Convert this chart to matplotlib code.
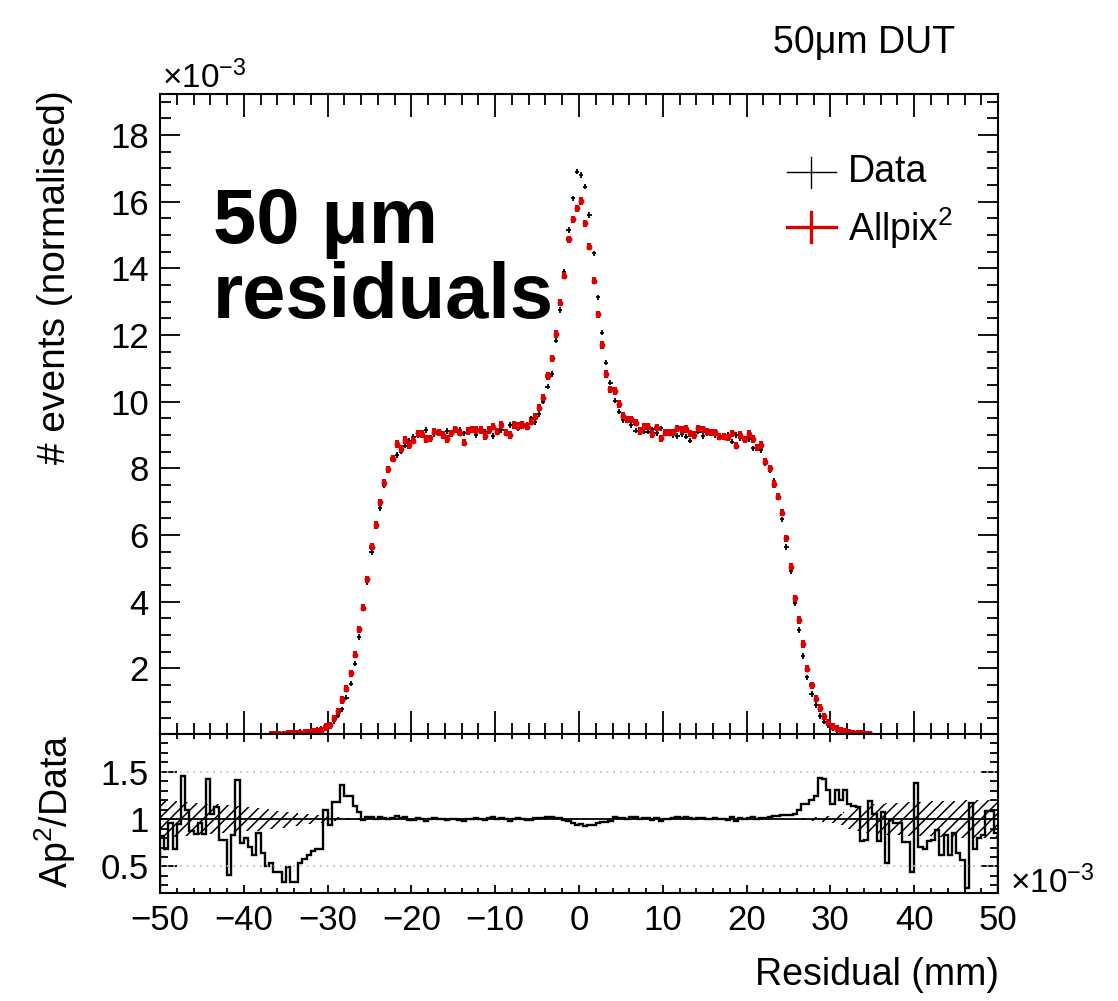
import numpy as np
import matplotlib
matplotlib.use('Agg')
import matplotlib.pyplot as plt
from matplotlib.ticker import MultipleLocator, FixedLocator, FuncFormatter
from matplotlib.lines import Line2D

plt.rcParams['font.family'] = ['Liberation Sans', 'DejaVu Sans']
plt.rcParams['mathtext.fontset'] = 'custom'
plt.rcParams['mathtext.rm'] = 'Liberation Sans'
plt.rcParams['mathtext.it'] = 'Liberation Sans:italic'
plt.rcParams['mathtext.bf'] = 'Liberation Sans:bold'
plt.rcParams['hatch.linewidth'] = 1.1

# residual histogram, 200 bins of 0.5 (x 1e-3 mm) from -50 to 50, values in 1e-3
data = [
    0.0, 0.0, 0.0, 0.0, 0.0, 0.0, 0.0, 0.0, 0.0, 0.0,
    0.0, 0.0, 0.0, 0.0, 0.0, 0.0, 0.0, 0.0, 0.0, 0.0,
    0.0, 0.0, 0.0, 0.0, 0.0, 0.0, 0.03, 0.04, 0.04, 0.05,
    0.06, 0.07, 0.08, 0.09, 0.10, 0.11, 0.13, 0.15, 0.18, 0.22,
    0.30, 0.42, 0.58, 0.77, 1.12, 1.54, 2.14, 2.94, 3.80, 4.58,
    5.49, 6.29, 6.80, 7.50, 7.95, 8.26, 8.40, 8.50, 8.68, 8.83,
    8.95, 8.98, 9.07, 9.15, 8.93, 9.03, 9.10, 9.00, 9.12, 9.05,
    9.17, 9.15, 9.05, 9.12, 9.17, 9.00, 9.12, 9.10, 9.10, 8.97,
    9.10, 9.15, 9.10, 9.30, 9.25, 9.20, 9.25, 9.30, 9.50, 9.38,
    9.63, 10.00, 10.45, 10.83, 11.83, 12.75, 13.90, 15.15, 16.10, 16.90,
    16.80, 16.45, 15.60, 14.45, 13.13, 12.07, 11.17, 10.57, 10.03, 9.70,
    9.45, 9.43, 9.30, 9.13, 9.10, 9.10, 9.10, 9.17, 9.05, 9.20,
    9.10, 9.05, 9.00, 8.97, 9.03, 8.95, 8.83, 9.00, 9.10, 8.97,
    9.05, 9.05, 9.00, 8.95, 8.95, 9.00, 8.80, 9.00, 8.90, 8.90,
    8.87, 8.60, 8.60, 8.55, 8.15, 7.95, 7.63, 7.15, 6.47, 5.64,
    4.92, 3.96, 3.15, 2.37, 1.73, 1.23, 0.90, 0.57, 0.40, 0.30,
    0.20, 0.15, 0.11, 0.08, 0.06, 0.05, 0.04, 0.03, 0.02, 0.02,
    0.0, 0.0, 0.0, 0.0, 0.0, 0.0, 0.0, 0.0, 0.0, 0.0,
    0.0, 0.0, 0.0, 0.0, 0.0, 0.0, 0.0, 0.0, 0.0, 0.0,
    0.0, 0.0, 0.0, 0.0, 0.0, 0.0, 0.0, 0.0, 0.0, 0.0,
]
allpix = [
    0.0, 0.0, 0.0, 0.0, 0.0, 0.0, 0.0, 0.0, 0.0, 0.0,
    0.0, 0.0, 0.0, 0.0, 0.0, 0.0, 0.0, 0.0, 0.0, 0.0,
    0.0, 0.0, 0.0, 0.0, 0.0, 0.0, 0.02, 0.02, 0.02, 0.02,
    0.03, 0.03, 0.03, 0.05, 0.06, 0.07, 0.09, 0.10, 0.13, 0.24,
    0.29, 0.50, 0.71, 1.05, 1.39, 1.85, 2.41, 3.17, 3.82, 4.67,
    5.65, 6.30, 6.98, 7.56, 7.97, 8.29, 8.73, 8.59, 8.85, 8.70,
    8.83, 9.05, 9.03, 8.88, 8.90, 9.10, 9.08, 9.00, 8.88, 9.05,
    9.17, 9.07, 8.77, 9.12, 9.17, 9.15, 9.15, 8.97, 9.15, 9.25,
    9.10, 9.30, 9.07, 9.00, 9.30, 9.27, 9.30, 9.25, 9.40, 9.55,
    9.82, 10.12, 10.77, 11.30, 12.03, 12.97, 13.78, 14.87, 15.47, 15.80,
    16.02, 15.35, 14.65, 13.63, 12.62, 11.70, 10.83, 10.37, 10.32, 9.93,
    9.58, 9.47, 9.47, 9.37, 9.12, 9.25, 9.25, 9.03, 9.22, 8.90,
    9.07, 9.07, 9.08, 9.20, 9.15, 9.18, 9.05, 9.00, 9.20, 9.17,
    9.10, 9.08, 9.08, 8.95, 8.95, 8.93, 9.05, 8.68, 9.00, 8.87,
    9.03, 8.88, 8.63, 8.70, 8.20, 8.00, 7.53, 7.15, 6.67, 5.90,
    5.05, 4.10, 3.45, 2.73, 1.99, 1.49, 1.09, 0.81, 0.56, 0.37,
    0.25, 0.19, 0.13, 0.09, 0.07, 0.05, 0.04, 0.03, 0.02, 0.02,
    0.0, 0.0, 0.0, 0.0, 0.0, 0.0, 0.0, 0.0, 0.0, 0.0,
    0.0, 0.0, 0.0, 0.0, 0.0, 0.0, 0.0, 0.0, 0.0, 0.0,
    0.0, 0.0, 0.0, 0.0, 0.0, 0.0, 0.0, 0.0, 0.0, 0.0,
]
# Allpix^2 / Data per bin
ratio = [
    0.82, 0.68, 0.96, 0.69, 0.95, 1.46, 1.10, 0.87, 0.84, 0.96,
    0.84, 1.43, 1.05, 1.13, 0.78, 0.78, 0.41, 0.83, 1.41, 0.75,
    0.80, 0.71, 0.62, 0.85, 0.64, 0.50, 0.54, 0.44, 0.44, 0.34,
    0.49, 0.34, 0.34, 0.54, 0.58, 0.62, 0.66, 0.69, 0.69, 1.10,
    0.94, 1.18, 1.18, 1.36, 1.24, 1.24, 1.14, 1.08, 0.99, 1.02,
    1.02, 1.00, 1.02, 1.01, 1.00, 1.01, 1.03, 1.01, 1.02, 0.99,
    0.99, 1.01, 1.00, 0.98, 1.00, 1.01, 1.00, 1.00, 0.99, 1.00,
    1.00, 0.99, 0.98, 1.00, 1.00, 1.01, 1.00, 0.99, 1.01, 1.02,
    1.00, 1.01, 1.00, 0.98, 1.00, 1.01, 1.00, 0.99, 0.99, 1.01,
    1.01, 1.01, 1.02, 1.02, 1.01, 1.01, 0.99, 0.98, 0.96, 0.94,
    0.95, 0.93, 0.94, 0.94, 0.96, 0.97, 0.97, 0.98, 1.02, 1.01,
    1.01, 1.00, 1.02, 1.02, 1.00, 1.01, 1.01, 0.99, 1.01, 0.98,
    1.00, 1.00, 1.01, 1.02, 1.01, 1.02, 1.01, 1.00, 1.01, 1.01,
    1.00, 1.00, 1.01, 1.00, 1.00, 0.99, 1.02, 0.98, 1.01, 1.00,
    1.01, 1.02, 1.00, 1.01, 1.01, 1.02, 1.03, 1.03, 1.04, 1.04,
    1.04, 1.05, 1.10, 1.16, 1.16, 1.20, 1.24, 1.44, 1.42, 1.31,
    1.16, 1.31, 1.20, 1.31, 1.16, 1.14, 1.13, 0.77, 0.78, 1.19,
    1.05, 0.77, 1.08, 0.54, 0.99, 0.96, 0.96, 0.76, 0.76, 0.44,
    1.38, 0.71, 0.69, 0.77, 0.78, 0.89, 0.62, 0.83, 0.62, 0.85,
    0.64, 0.57, 0.27, 1.17, 0.69, 0.80, 0.83, 1.09, 1.09, 0.85,
]
# half width of the hatched uncertainty band on the ratio
band = [
    0.19, 0.19, 0.19, 0.19, 0.18, 0.18, 0.18, 0.18, 0.17, 0.17,
    0.17, 0.16, 0.16, 0.16, 0.15, 0.15, 0.15, 0.14, 0.14, 0.13,
    0.13, 0.13, 0.12, 0.12, 0.11, 0.11, 0.10, 0.10, 0.09, 0.09,
    0.08, 0.08, 0.07, 0.06, 0.06, 0.05, 0.05, 0.04, 0.04, 0.03,
    0.03, 0.02, 0.02, 0.02, 0.01, 0.01, 0.01, 0.01, 0.0, 0.0,
    0.0, 0.0, 0.0, 0.0, 0.0, 0.0, 0.0, 0.0, 0.0, 0.0,
    0.0, 0.0, 0.0, 0.0, 0.0, 0.0, 0.0, 0.0, 0.0, 0.0,
    0.0, 0.0, 0.0, 0.0, 0.0, 0.0, 0.0, 0.0, 0.0, 0.0,
    0.0, 0.0, 0.0, 0.0, 0.0, 0.0, 0.0, 0.0, 0.0, 0.0,
    0.0, 0.0, 0.0, 0.0, 0.0, 0.0, 0.0, 0.0, 0.0, 0.0,
    0.0, 0.0, 0.0, 0.0, 0.0, 0.0, 0.0, 0.0, 0.0, 0.0,
    0.0, 0.0, 0.0, 0.0, 0.0, 0.0, 0.0, 0.0, 0.0, 0.0,
    0.0, 0.0, 0.0, 0.0, 0.0, 0.0, 0.0, 0.0, 0.0, 0.0,
    0.0, 0.0, 0.0, 0.0, 0.0, 0.0, 0.0, 0.0, 0.0, 0.0,
    0.0, 0.0, 0.0, 0.0, 0.0, 0.0, 0.0, 0.0, 0.0, 0.0,
    0.0, 0.0, 0.01, 0.01, 0.01, 0.02, 0.02, 0.02, 0.03, 0.03,
    0.04, 0.05, 0.06, 0.08, 0.10, 0.12, 0.13, 0.14, 0.15, 0.15,
    0.16, 0.16, 0.16, 0.17, 0.17, 0.17, 0.17, 0.18, 0.18, 0.18,
    0.18, 0.18, 0.18, 0.18, 0.19, 0.19, 0.19, 0.19, 0.19, 0.19,
    0.19, 0.20, 0.20, 0.20, 0.20, 0.20, 0.20, 0.20, 0.20, 0.20,
]

edges = np.linspace(-50, 50, 201)
centers = 0.5 * (edges[:-1] + edges[1:])
data = np.array(data)
allpix = np.array(allpix)
ratio = np.array(ratio)
band = np.array(band)

# empty bins are not drawn
data_shown = np.where(data > 0, data, np.nan)
allpix_shown = np.where(allpix > 0, allpix, np.nan)

red = '#dd0000'
fig = plt.figure(figsize=(11.18, 10.01), dpi=100)
ax = fig.add_axes([0.1431, 0.2667, 0.7496, 0.6394])
ax2 = fig.add_axes([0.1431, 0.1079, 0.7496, 0.1588])

# main panel
ax.errorbar(centers, data_shown, xerr=0.25, yerr=0.08, fmt='none', ecolor='black', elinewidth=1.3)
ax.errorbar(centers, allpix_shown, xerr=0.25, yerr=0.11, fmt='o', color=red, ms=4.2,
            ecolor=red, elinewidth=3.0, mew=0)
ax.set_xlim(-50, 50)
ax.set_ylim(0.03, 19.23)
ax.yaxis.set_major_locator(FixedLocator([2, 4, 6, 8, 10, 12, 14, 16, 18]))
ax.yaxis.set_minor_locator(MultipleLocator(0.5))
ax.xaxis.set_major_locator(MultipleLocator(10))
ax.xaxis.set_minor_locator(MultipleLocator(2))
ax.tick_params(which='both', direction='in', top=True, right=True, width=1.3)
ax.tick_params(axis='x', which='major', length=16.5, labelbottom=False)
ax.tick_params(axis='x', which='minor', length=8)
ax.tick_params(axis='y', which='major', length=14.5, labelsize=25, pad=8)
ax.tick_params(axis='y', which='minor', length=8)

# ratio panel
ax2.axhline(0.5, color='#bbbbbb', lw=1.2, ls=(0, (1, 3)))
ax2.axhline(1.5, color='#bbbbbb', lw=1.2, ls=(0, (1, 3)))
ax2.fill_between(edges, np.append(1 - band, 1 - band[-1]), np.append(1 + band, 1 + band[-1]),
                 step='post', facecolor='none', edgecolor='black', hatch='///', linewidth=0)
ax2.axhline(1.0, color='black', lw=1.3)
ax2.stairs(ratio, edges, color='black', lw=1.7)
ax2.set_xlim(-50, 50)
ax2.set_ylim(0.22, 1.9)
ax2.yaxis.set_major_locator(FixedLocator([0.5, 1.0, 1.5]))
ax2.yaxis.set_major_formatter(FuncFormatter(lambda v, p: '%g' % v))
ax2.yaxis.set_minor_locator(MultipleLocator(0.1))
ax2.xaxis.set_major_locator(MultipleLocator(10))
ax2.xaxis.set_minor_locator(MultipleLocator(2))
ax2.tick_params(which='both', direction='in', top=True, right=True, width=1.3)
ax2.tick_params(axis='x', which='major', length=6, labelsize=25, pad=8)
ax2.tick_params(axis='x', which='minor', length=3.5)
ax2.tick_params(axis='y', which='major', length=12, labelsize=25, pad=8)
ax2.tick_params(axis='y', which='minor', length=6)

for a in (ax, ax2):
    for s in a.spines.values():
        s.set_linewidth(1.5)

# texts
fig.text(0.049, 0.910, '# events (normalised)', rotation=90, ha='center', va='top', fontsize=28)
fig.text(0.049, 0.266, 'Ap$^{2}$/Data', rotation=90, ha='center', va='top', fontsize=27)
fig.text(0.894, 1 - 985 / 1001, 'Residual (mm)', ha='right', va='baseline', fontsize=27)
fig.text(0.854, 1 - 53 / 1001, '50μm DUT', ha='right', va='baseline', fontsize=27)
fig.text(0.145, 1 - 88 / 1001, '×10$^{-3}$', ha='left', va='baseline', fontsize=24)
fig.text(0.903, 1 - 893 / 1001, '×10$^{-3}$', ha='left', va='baseline', fontsize=24)
fig.text(213 / 1118, 1 - 243 / 1001, '50 μm', ha='left', va='baseline', fontsize=56, fontweight='bold')
fig.text(213 / 1118, 1 - 318 / 1001, 'residuals', ha='left', va='baseline', fontsize=56, fontweight='bold')

# legend
W, H = 1118.0, 1001.0
def fx(px):
    return px / W
def fy(py):
    return 1 - py / H
fig.add_artist(Line2D([fx(787), fx(836)], [fy(172), fy(172)], color='black', lw=1.0))
fig.add_artist(Line2D([fx(811), fx(811)], [fy(157), fy(188)], color='black', lw=1.0))
fig.add_artist(Line2D([fx(787), fx(836)], [fy(227), fy(227)], color=red, lw=2.4))
fig.add_artist(Line2D([fx(811), fx(811)], [fy(212), fy(242)], color=red, lw=2.4))
fig.text(fx(848), fy(172), 'Data', ha='left', va='center', fontsize=27)
fig.text(fx(848), fy(228), 'Allpix$^{2}$', ha='left', va='center', fontsize=27)

fig.savefig('out.png', dpi=100)
